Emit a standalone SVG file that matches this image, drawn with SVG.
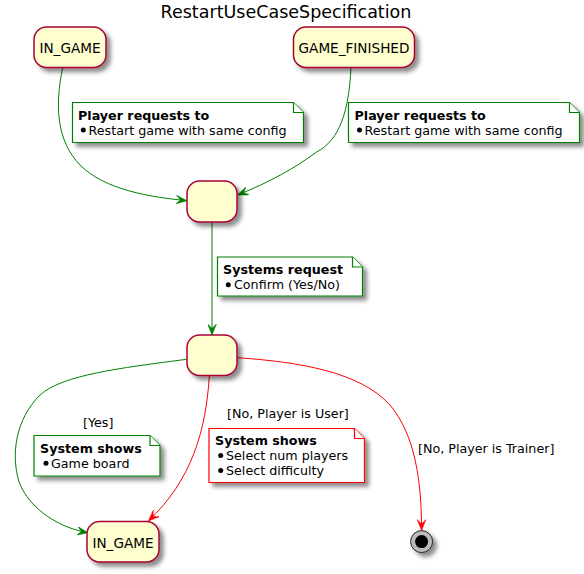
<svg xmlns="http://www.w3.org/2000/svg" width="584" height="574" viewBox="0 0 584 574">
<style>
.st{fill:#FEFECE;stroke:#A80036;stroke-width:1.5}
.nt{fill:#FFFFFF;stroke-width:1.2}
.ng{stroke:#008000}
.nr{stroke:#FF0000}
.t{font-family:"DejaVu Sans",sans-serif;font-size:13.6px;fill:#000}
.n{font-family:"DejaVu Sans",sans-serif;font-size:12.7px;fill:#000}
.b{font-weight:bold}
.eg{fill:none;stroke:#008000;stroke-width:1}
.er{fill:none;stroke:#FF0000;stroke-width:1}
</style>
<defs>
<filter id="sh" x="-50%" y="-50%" width="200%" height="200%">
<feGaussianBlur in="SourceAlpha" stdDeviation="2" result="b"/>
<feColorMatrix in="b" type="matrix" values="0 0 0 0 0  0 0 0 0 0  0 0 0 0 0  0 0 0 0.45 0" result="c"/>
<feOffset in="c" dx="4" dy="4" result="o"/>
<feBlend in="SourceGraphic" in2="o" mode="normal"/>
</filter>
<marker id="ag" viewBox="0 0 10 8" refX="10" refY="4" markerWidth="11" markerHeight="9" orient="auto" markerUnits="userSpaceOnUse"><path d="M0,0 L10,4 L0,8 L4,4 Z" fill="#008000" stroke="#008000" stroke-width="0.5"/></marker>
<marker id="ar" viewBox="0 0 10 8" refX="10" refY="4" markerWidth="11" markerHeight="9" orient="auto" markerUnits="userSpaceOnUse"><path d="M0,0 L10,4 L0,8 L4,4 Z" fill="#FF0000" stroke="#FF0000" stroke-width="0.5"/></marker>
</defs>
<rect width="584" height="574" fill="#FFFFFF"/>
<text x="286" y="18" text-anchor="middle" font-family="DejaVu Sans, sans-serif" font-size="17.5">RestartUseCaseSpecification</text>

<g id="connectors">
<path class="eg" d="M62.7,67.5 C55,105 56,140 80,165 C105,190 150,197 187,200.7" marker-end="url(#ag)"/>
<path class="eg" d="M351,67.5 C349,110 340,140 316.6,152 C295,168 270,182 237.5,195" marker-end="url(#ag)"/>
<path class="eg" d="M212,222.5 L212,335" marker-end="url(#ag)"/>
<path class="eg" d="M186.7,359.3 C120,368 62,375 40,395 C15,420 11,455 19,482 C30,510 60,528 88,532.7" marker-end="url(#ag)"/>
<path class="er" d="M209.3,376 C206,430 192,480 148.3,521" marker-end="url(#ar)"/>
<path class="er" d="M237.5,357.7 C300,362 360,372 390,405 C415,435 421.5,480 421.6,530.5" marker-end="url(#ar)"/>
<text class="n" x="83" y="426.7">[Yes]</text>
<text class="n" x="227" y="418.3">[No, Player is User]</text>
<text class="n" x="418" y="453.3">[No, Player is Trainer]</text>
</g>

<g id="in_game_top">
<rect class="st" x="34" y="27" width="72" height="40.5" rx="12.5" filter="url(#sh)"/>
<text class="t" x="70" y="53.3" text-anchor="middle">IN_GAME</text>
</g>
<g id="game_finished">
<rect class="st" x="293.5" y="27" width="121" height="40.5" rx="12.5" filter="url(#sh)"/>
<text class="t" x="354" y="53.3" text-anchor="middle">GAME_FINISHED</text>
</g>
<g id="state_request">
<rect class="st" x="187" y="181" width="50" height="41" rx="12.5" filter="url(#sh)"/>
</g>
<g id="state_confirm">
<rect class="st" x="187" y="335" width="50" height="40.5" rx="12.5" filter="url(#sh)"/>
</g>
<g id="in_game_bottom">
<rect class="st" x="87" y="521.5" width="72" height="40.5" rx="12.5" filter="url(#sh)"/>
<text class="t" x="123" y="547.7" text-anchor="middle">IN_GAME</text>
</g>
<g id="end_state">
<circle cx="421.6" cy="541.6" r="11" fill="#BBBBBB" stroke="#222222" stroke-width="1" filter="url(#sh)"/>
<circle cx="421.6" cy="541.6" r="6.5" fill="#000000"/>
</g>

<g id="note_ingame">
<path class="nt ng" d="M72.5,102.5 L72.5,142.5 L303.5,142.5 L303.5,112.5 L293.5,102.5 Z" filter="url(#sh)"/>
<path class="nt ng" d="M293.5,102.5 L293.5,112.5 L303.5,112.5" fill="none"/>
<text class="n b" x="78" y="120">Player requests to</text>
<circle cx="83.3" cy="130" r="2.5" fill="#000"/>
<text class="n" x="88.5" y="134.5">Restart game with same config</text>
</g>
<g id="note_finished">
<path class="nt ng" d="M348.5,102.5 L348.5,142.5 L579.5,142.5 L579.5,112.5 L569.5,102.5 Z" filter="url(#sh)"/>
<path class="nt ng" d="M569.5,102.5 L569.5,112.5 L579.5,112.5" fill="none"/>
<text class="n b" x="354.5" y="120">Player requests to</text>
<circle cx="359.5" cy="130" r="2.5" fill="#000"/>
<text class="n" x="364.5" y="134.5">Restart game with same config</text>
</g>
<g id="note_confirm">
<path class="nt ng" d="M217.5,257 L217.5,296 L362.5,296 L362.5,267 L352.5,257 Z" filter="url(#sh)"/>
<path class="nt ng" d="M352.5,257 L352.5,267 L362.5,267" fill="none"/>
<text class="n b" x="223" y="274">Systems request</text>
<circle cx="228.3" cy="284.7" r="2.5" fill="#000"/>
<text class="n" x="234" y="289">Confirm (Yes/No)</text>
</g>
<g id="note_yes">
<path class="nt ng" d="M34,435.5 L34,476 L160,476 L160,445.5 L150,435.5 Z" filter="url(#sh)"/>
<path class="nt ng" d="M150,435.5 L150,445.5 L160,445.5" fill="none"/>
<text class="n b" x="40" y="452.7">System shows</text>
<circle cx="46" cy="463.3" r="2.5" fill="#000"/>
<text class="n" x="51" y="467.5">Game board</text>
</g>
<g id="note_user">
<path class="nt nr" d="M209,428.5 L209,482.5 L364.5,482.5 L364.5,438.5 L354.5,428.5 Z" filter="url(#sh)"/>
<path class="nt nr" d="M354.5,428.5 L354.5,438.5 L364.5,438.5" fill="none"/>
<text class="n b" x="215" y="445">System shows</text>
<circle cx="220.7" cy="455.5" r="2.5" fill="#000"/>
<text class="n" x="226" y="460">Select num players</text>
<circle cx="220.7" cy="470.5" r="2.5" fill="#000"/>
<text class="n" x="226" y="475">Select difficulty</text>
</g>
</svg>
